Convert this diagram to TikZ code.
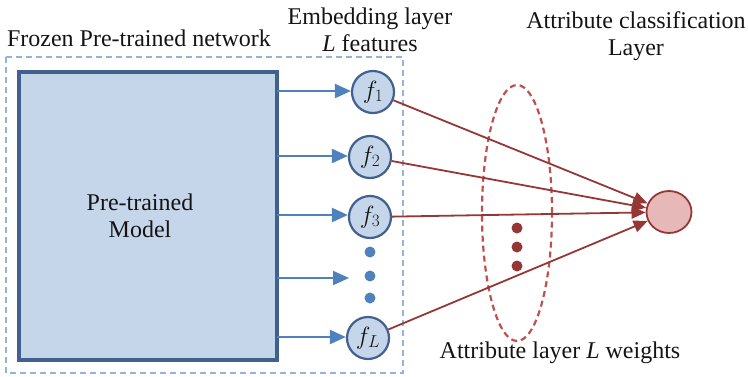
\documentclass[tikz,border=0pt]{standalone}
\usepackage{fontspec}
\setmainfont{Liberation Serif}
\usetikzlibrary{arrows.meta,shapes.geometric}
\definecolor{boxedge}{RGB}{65,96,143}
\definecolor{boxfill}{RGB}{198,214,234}
\definecolor{arrowblue}{RGB}{79,129,189}
\definecolor{frameblue}{RGB}{149,179,215}
\definecolor{wred}{RGB}{149,55,53}
\definecolor{lred}{RGB}{192,80,77}
\definecolor{outfill}{RGB}{230,185,184}
\definecolor{txt}{RGB}{20,20,20}
\begin{document}
\begin{tikzpicture}[x=1pt,y=-1pt,
  every node/.style={text=txt},
  lbl/.style={font=\fontsize{24}{27}\selectfont, align=center, inner sep=0pt},
  feat/.style={circle, draw=boxedge, line width=2.2pt, fill=boxfill, minimum size=42pt, inner sep=0pt, font=\fontsize{25}{25}\selectfont},
  feed/.style={draw=arrowblue, line width=2.2pt, -{Triangle[length=16pt,width=14pt]}},
  wline/.style={draw=wred, line width=1.8pt, -{Triangle[length=14pt,width=12pt]}},
  bdot/.style={circle, fill=arrowblue, minimum size=11pt, inner sep=0pt},
  rdot/.style={circle, fill=wred, minimum size=11pt, inner sep=0pt}]
\useasboundingbox (0,0) rectangle (748,376);

% frozen network frame
\draw[frameblue, line width=2.2pt, dash pattern=on 6pt off 4pt] (6,57) rectangle (403,373);

% pre-trained model block
\node[draw=boxedge, line width=4.5pt, fill=boxfill, minimum width=258pt, minimum height=288pt,
      inner sep=0pt, outer sep=0pt] (model) at (148,216) {};
\node[lbl] (mtext) at (140,216) {Pre-trained\\Model};

% feature nodes
\node[feat] (f1) at (373,92) {$f_1$};
\node[feat] (f2) at (370,157) {$f_2$};
\node[feat] (f3) at (370,217) {$f_3$};
\node[feat] (fL) at (368,338) {$f_L$};
\node[bdot] (d1) at (370,252) {};
\node[bdot] (d2) at (370,276) {};
\node[bdot] (d3) at (370,298) {};
\coordinate (fdots) at (349,278);

% feeds from the model to the features
\draw[feed] (model.east |- 0,91) -- (f1.west |- 0,91);
\draw[feed] (model.east |- 0,156) -- (f2.west |- 0,156);
\draw[feed] (model.east |- 0,215) -- (f3.west |- 0,215);
\draw[feed] (model.east |- fdots) -- (fdots);
\draw[feed] (model.east |- 0,337) -- (fL.west |- 0,337);

% attribute classification output
\node[ellipse, draw=wred, line width=1.8pt, fill=outfill, minimum width=45pt, minimum height=42pt, inner sep=0pt] (out) at (669,212) {};

% weights ellipse
\node[ellipse, draw=lred, line width=2.2pt, dash pattern=on 6pt off 4pt, minimum width=70pt, minimum height=256pt, inner sep=0pt] (wts) at (517,213) {};
\node[rdot] (r1) at (517,228) {};
\node[rdot] (r2) at (517,247) {};
\node[rdot] (r3) at (517,266) {};

% weighted connections
\draw[wline] (f1) -- (out);
\draw[wline] (f2) -- (out);
\draw[wline] (f3) -- (out);
\draw[wline] (fL) -- (out);

% labels
\node[lbl] (lframe) at (139,38) {Frozen Pre-trained network};
\node[lbl] (lemb) at (370,30) {Embedding layer\\\textit{L} features};
\node[lbl] (lcls) at (636,36) {Attribute classification\\Layer};
\node[lbl] (lwts) at (560,353) {Attribute layer \textit{L} weights};
\end{tikzpicture}
\end{document}
